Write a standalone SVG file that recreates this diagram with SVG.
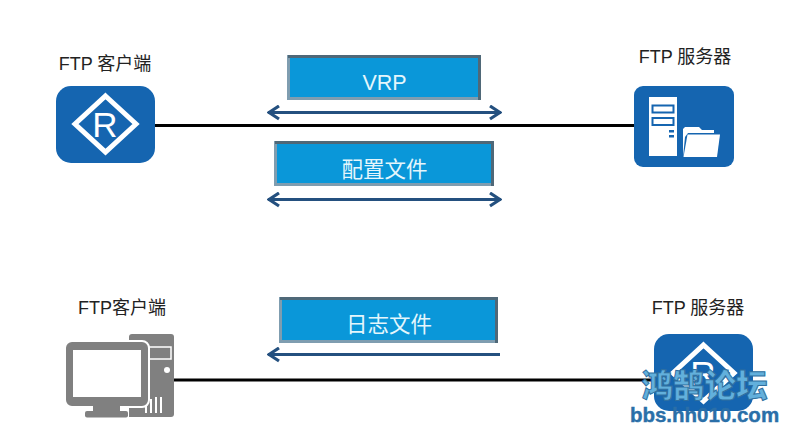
<svg xmlns="http://www.w3.org/2000/svg" width="796" height="442" viewBox="0 0 796 442">
<style>
.t{font-family:"Liberation Sans","Noto Sans CJK SC",sans-serif;font-size:18px;fill:#222;text-anchor:middle}
.b{font-family:"Liberation Sans","Noto Sans CJK SC",sans-serif;font-size:21.500px;fill:#e4f6fc;text-anchor:middle}
.box{fill:#0a97d9}
.hi{fill:none;stroke:#7f9db0;stroke-width:3}
.lo{fill:none;stroke:#4f6878;stroke-width:3}
.blue{fill:#1565b0}
.arr{stroke:#24507f;stroke-width:3;fill:none}
.wm{font-family:"Noto Sans CJK SC",sans-serif;font-weight:900;font-size:31.500px;fill:#62b0dc;stroke:#2f6f9f;stroke-width:1;text-anchor:middle}
.wm2{font-family:"Liberation Sans",sans-serif;font-weight:700;font-size:20.500px;fill:#2a6fa8;stroke:#2a6fa8;stroke-width:.4;text-anchor:middle}
.r{font-family:"Liberation Sans",sans-serif;font-size:35px;fill:#fff;text-anchor:middle}
</style>
<defs>
<marker id="h" viewBox="0 0 14 16" refX="13" refY="8" markerWidth="14" markerHeight="16" markerUnits="userSpaceOnUse" orient="auto-start-reverse">
<path d="M2 1.500L12 8L2 14.500" fill="none" stroke="#24507f" stroke-width="3.200"/>
</marker>
</defs>
<rect width="796" height="442" fill="#fff"/>
<g id="connectors">
<line x1="155" y1="125.500" x2="635" y2="125.500" stroke="#000" stroke-width="3"/>
<line x1="174" y1="380" x2="655" y2="380" stroke="#000" stroke-width="3"/>
<line class="arr" x1="268" y1="112.500" x2="501" y2="112.500" marker-start="url(#h)" marker-end="url(#h)"/>
<line class="arr" x1="268" y1="199.500" x2="501" y2="199.500" marker-start="url(#h)" marker-end="url(#h)"/>
<line class="arr" x1="268" y1="354.500" x2="500" y2="354.500" marker-start="url(#h)"/>
</g>
<g id="client-router">
<text class="t" x="105" y="70">FTP 客户端</text>
<rect class="blue" x="56" y="86" width="99" height="77" rx="15"/>
<path d="M105.500 96L136 124L105.500 152L75 124Z" fill="none" stroke="#fff" stroke-width="5"/>
<text class="r" x="105" y="137">R</text>
</g>
<g id="vrp">
<rect class="box" x="288" y="55" width="193" height="45"/>
<path class="hi" d="M288.500 55V98.500H481"/>
<path class="lo" d="M288 56.500H479.500V100"/>
<text class="b" x="384.500" y="90">VRP</text>
</g>
<g id="config">
<rect class="box" x="275" y="141" width="219" height="45"/>
<path class="hi" d="M275.500 141V184.500H494"/>
<path class="lo" d="M275 142.500H492.500V186"/>
<text class="b" x="384.500" y="177">配置文件</text>
</g>
<g id="ftp-server">
<text class="t" x="685" y="63">FTP 服务器</text>
<rect class="blue" x="634" y="86" width="100" height="81" rx="9"/>
<rect x="649" y="97" width="28" height="59" fill="#fff"/>
<rect x="652.500" y="105.500" width="21" height="7" fill="#fff" stroke="#1565b0" stroke-width="2"/>
<rect x="652.500" y="118" width="21" height="7" fill="#fff" stroke="#1565b0" stroke-width="2"/>
<rect x="669" y="130" width="5" height="2.500" fill="#1565b0"/>
<rect x="669" y="135" width="5" height="2.500" fill="#1565b0"/>
<path d="M683 157V129L685 127H699L702 130H714V133H688L685 137Z" fill="#fff"/>
<path d="M683.500 157L687.500 134.500H720L717 157Z" fill="#fff"/>
</g>
<g id="log">
<rect class="box" x="280" y="297" width="218" height="46"/>
<path class="hi" d="M280.500 297V341.500H498"/>
<path class="lo" d="M280 298.500H496.500V343"/>
<text class="b" x="389" y="332">日志文件</text>
</g>
<g id="client-pc">
<text class="t" x="122" y="314">FTP客户端</text>
<path d="M129 337Q129 334 132 334H171Q174 334 174 337V414Q174 417 171 417H129Z" fill="#808080"/>
<rect x="149" y="347" width="22" height="12" fill="#808080" stroke="#fff" stroke-width="1.500"/>
<circle cx="167" cy="370" r="3" fill="#fff"/>
<path d="M146 403V413M151 399V413M156 397V413M161 397V413" stroke="#fff" stroke-width="2"/>
<rect x="65" y="341" width="84" height="66" rx="7" fill="#808080" stroke="#fff" stroke-width="2"/>
<rect x="73" y="350" width="68" height="47" fill="#fff"/>
<rect x="93" y="406" width="27" height="5" fill="#808080"/>
<rect x="85" y="411" width="43" height="6.500" rx="2" fill="#808080"/>
</g>
<g id="server-router">
<text class="t" x="698" y="314">FTP 服务器</text>
<rect class="blue" x="654" y="334" width="99" height="77" rx="15"/>
<path d="M703.500 345L734 373L703.500 401L673 373Z" fill="none" stroke="#fff" stroke-width="5"/>
<text class="r" x="703" y="386">R</text>
</g>
<g id="watermark">
<text class="wm" x="704.500" y="397">鸿鹄论坛</text>
<text class="wm2" x="704.500" y="422">bbs.hh010.com</text>
</g>
</svg>
